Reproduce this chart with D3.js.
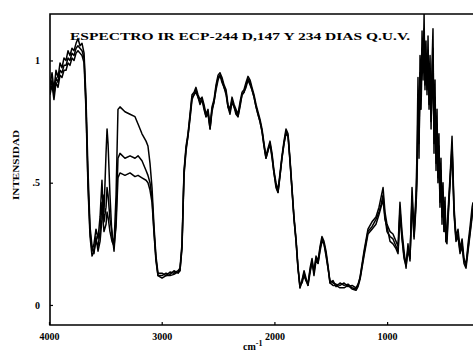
<!DOCTYPE html>
<html>
<head>
<meta charset="utf-8">
<script src="https://cdn.jsdelivr.net/npm/d3@7"></script>
<style>
  html, body { margin: 0; padding: 0; background: #fff; }
  svg { display: block; }
  text { font-family: "Liberation Serif", "DejaVu Serif", serif; font-weight: bold; fill: #000; }
</style>
</head>
<body>
<svg id="chart" width="473" height="352"></svg>
<script>
// ---- data (wavenumber, cm-1) ----
const wavenumbers = [3991,3973,3956,3938,3920,3902,3885,3867,3849,3831,3814,3796,3778,3760,3743,3725,3707,3689,3672,3654,
3636,3618,3601,3583,3565,3547,3530,3521,3512,3494,3485,3476,3459,3441,3423,3405,3388,3370,3326,3281,
3237,3210,3175,3139,3122,3104,3086,3068,3051,3033,2997,2962,2926,2891,2855,2838,2820,2802,2784,2767,
2749,2731,2713,2696,2678,2660,2642,2625,2607,2589,2571,2554,2536,2518,2500,2483,2465,2447,2429,2412,
2394,2376,2358,2341,2323,2305,2287,2270,2252,2234,2216,2199,2181,2163,2146,2128,2110,2092,2075,2057,
2039,2021,2004,1986,1968,1950,1933,1915,1897,1879,1862,1844,1826,1808,1791,1773,1755,1737,1720,1702,
1684,1666,1649,1631,1613,1595,1578,1560,1542,1524,1507,1480,1453,1418,1382,1347,1311,1276,1258,1240,
1205,1170,1134,1099,1072,1054,1036,1019,1001,974,948,921,903,886,868,850,832,815,797,779,
761,744,735,726,717,708,699,690,681,672,664,655,646,637,628,619,610,602,593,584,575,566,557,549,540,531,522,513,504,495,486,478,469,460,451,433,
424,406,389,371,353,335,318,300,282,264,246,238];

const serieA = [0.90,0.95,0.88,0.96,0.93,0.99,0.97,1.01,1.00,1.04,1.02,1.05,1.04,1.07,1.09,1.06,1.07,1.03,0.85,0.55,
0.32,0.24,0.21,0.28,0.22,0.26,0.35,0.45,0.38,0.62,0.72,0.66,0.45,0.28,0.25,0.45,0.80,0.81,0.79,0.78,
0.77,0.74,0.70,0.67,0.65,0.58,0.48,0.32,0.20,0.13,0.13,0.12,0.135,0.13,0.14,0.15,0.25,0.55,0.65,0.70,
0.78,0.86,0.87,0.89,0.86,0.84,0.85,0.82,0.78,0.80,0.73,0.81,0.84,0.90,0.94,0.95,0.93,0.90,0.88,0.82,
0.80,0.85,0.82,0.80,0.78,0.83,0.87,0.88,0.91,0.935,0.92,0.89,0.86,0.82,0.79,0.76,0.72,0.66,0.61,0.64,
0.67,0.62,0.55,0.50,0.47,0.54,0.61,0.67,0.72,0.70,0.60,0.48,0.36,0.27,0.16,0.07,0.10,0.14,0.11,0.08,
0.15,0.19,0.13,0.20,0.18,0.24,0.28,0.26,0.22,0.16,0.09,0.10,0.075,0.09,0.08,0.085,0.07,0.065,0.08,0.115,
0.22,0.31,0.34,0.36,0.40,0.44,0.48,0.38,0.33,0.30,0.29,0.26,0.24,0.42,0.30,0.22,0.15,0.25,0.18,0.48,
0.30,0.45,0.62,0.93,0.60,1.02,0.85,1.12,0.92,1.19,0.88,1.08,0.86,1.10,0.80,1.02,0.72,0.98,1.13,0.62,0.92,0.55,0.80,0.50,0.70,0.40,0.60,0.33,0.50,0.30,0.44,0.26,0.30,0.38,0.45,0.60,
0.69,0.40,0.28,0.31,0.23,0.27,0.19,0.16,0.25,0.32,0.40,0.42];

const serieB = [0.88,0.92,0.86,0.93,0.91,0.96,0.95,0.98,0.98,1.01,1.00,1.03,1.02,1.05,1.06,1.05,1.04,1.01,0.82,0.50,
0.30,0.22,0.25,0.31,0.27,0.36,0.51,0.40,0.34,0.40,0.48,0.45,0.35,0.30,0.22,0.35,0.60,0.62,0.60,0.61,
0.60,0.61,0.59,0.55,0.53,0.50,0.44,0.30,0.19,0.12,0.12,0.13,0.125,0.14,0.13,0.14,0.24,0.54,0.64,0.69,
0.77,0.85,0.86,0.88,0.85,0.83,0.84,0.81,0.77,0.79,0.72,0.80,0.83,0.89,0.93,0.94,0.92,0.89,0.87,0.81,
0.79,0.84,0.81,0.79,0.77,0.82,0.86,0.87,0.90,0.925,0.91,0.88,0.85,0.81,0.78,0.75,0.71,0.65,0.60,0.63,
0.66,0.61,0.54,0.49,0.46,0.53,0.60,0.66,0.71,0.69,0.59,0.47,0.35,0.26,0.15,0.08,0.09,0.12,0.10,0.09,
0.14,0.17,0.14,0.19,0.17,0.23,0.27,0.25,0.21,0.15,0.10,0.09,0.085,0.08,0.09,0.075,0.08,0.07,0.085,0.11,
0.21,0.30,0.32,0.35,0.38,0.41,0.45,0.36,0.30,0.28,0.27,0.24,0.22,0.39,0.28,0.20,0.17,0.23,0.20,0.44,
0.28,0.42,0.55,0.80,0.70,0.95,0.90,1.05,1.00,1.13,0.95,1.00,0.93,1.04,0.86,0.94,0.80,0.90,1.05,0.70,0.85,0.62,0.74,0.55,0.65,0.45,0.55,0.38,0.46,0.32,0.40,0.28,0.27,0.36,0.43,0.58,
0.66,0.38,0.27,0.29,0.22,0.25,0.18,0.17,0.23,0.30,0.37,0.40];

const serieC = [0.86,0.90,0.84,0.91,0.89,0.94,0.93,0.96,0.96,0.99,0.98,1.01,1.00,1.03,1.04,1.03,1.02,0.99,0.80,0.48,
0.28,0.20,0.22,0.26,0.24,0.30,0.42,0.35,0.30,0.33,0.38,0.36,0.30,0.26,0.24,0.32,0.52,0.54,0.53,0.54,
0.525,0.53,0.52,0.51,0.50,0.47,0.42,0.29,0.18,0.12,0.11,0.12,0.12,0.125,0.135,0.14,0.23,0.53,0.63,0.69,
0.76,0.84,0.86,0.87,0.85,0.82,0.84,0.80,0.77,0.78,0.72,0.79,0.83,0.88,0.92,0.94,0.91,0.89,0.86,0.81,
0.78,0.83,0.81,0.78,0.77,0.81,0.86,0.87,0.89,0.92,0.90,0.88,0.85,0.81,0.78,0.75,0.71,0.65,0.60,0.63,
0.66,0.60,0.54,0.48,0.46,0.53,0.60,0.66,0.70,0.69,0.59,0.47,0.35,0.26,0.15,0.07,0.10,0.13,0.10,0.08,
0.13,0.18,0.12,0.18,0.17,0.22,0.26,0.25,0.20,0.15,0.09,0.08,0.08,0.07,0.07,0.08,0.065,0.06,0.075,0.105,
0.20,0.29,0.31,0.33,0.37,0.40,0.43,0.35,0.32,0.26,0.25,0.23,0.21,0.37,0.27,0.19,0.16,0.22,0.19,0.42,
0.27,0.40,0.50,0.74,0.66,0.90,0.80,1.00,0.95,1.08,0.90,0.95,0.88,0.98,0.82,0.90,0.75,0.85,1.00,0.66,0.80,0.58,0.70,0.52,0.60,0.42,0.52,0.36,0.44,0.30,0.38,0.26,0.25,0.34,0.42,0.56,
0.64,0.37,0.26,0.28,0.21,0.24,0.17,0.15,0.22,0.29,0.36,0.38];

const xTicks = [4000, 3000, 2000, 1000];
const yTicks = [0, 0.5, 1];
const yTickLabels = ["0", ".5", "1"];
const chartTitle = "ESPECTRO IR ECP-244 D,147 Y 234 DIAS Q.U.V.";
const yTitle = "INTENSIDAD";

(function draw() {
  const svg = d3.select("#chart");
  const pL = 50, pR = 473, pT = 14, pB = 325;

  const x = d3.scaleLinear().domain([4000, 238]).range([49, 473]);
  const y = d3.scaleLinear().domain([-0.082, 1.19]).range([pB, pT]);

  // frame (left, top, bottom; right edge falls outside the picture)
  svg.append("path")
    .attr("d", `M${pR + 5},${pT}H${pL}V${pB}H${pR + 5}`)
    .attr("fill", "none").attr("stroke", "#000").attr("stroke-width", 1.6);

  const xAxis = d3.axisBottom(x).tickValues(xTicks).tickSize(-3).tickFormat(d3.format("d"));
  const gx = svg.append("g").attr("transform", `translate(0,${pB})`).call(xAxis);
  gx.select(".domain").remove();
  gx.selectAll("line").attr("stroke", "#000").attr("stroke-width", 1.2);
  gx.selectAll("text").attr("y", 8).attr("dy", "0.71em").attr("font-size", 10)
    .style("font-family", "'Liberation Serif', serif").style("font-weight", "bold");

  const yAxis = d3.axisLeft(y).tickValues(yTicks).tickSize(-3)
    .tickFormat((d, i) => yTickLabels[i]);
  const gy = svg.append("g").attr("transform", `translate(${pL},0)`).call(yAxis);
  gy.select(".domain").remove();
  gy.selectAll("line").attr("stroke", "#000").attr("stroke-width", 1.2);
  gy.selectAll("text").attr("x", -10).attr("font-size", 10)
    .style("font-family", "'Liberation Serif', serif").style("font-weight", "bold");

  svg.append("clipPath").attr("id", "clip").append("rect")
    .attr("x", pL).attr("y", pT).attr("width", pR - pL).attr("height", pB - pT);

  const line = d3.line().x(d => x(d[0])).y(d => y(d[1]));
  [serieA, serieB, serieC].forEach(s => {
    svg.append("path")
      .datum(wavenumbers.map((w, i) => [w, s[i]]))
      .attr("clip-path", "url(#clip)")
      .attr("fill", "none").attr("stroke", "#000").attr("stroke-width", 1.5)
      .attr("stroke-linejoin", "round")
      .attr("d", line);
  });

  svg.append("text").attr("x", 70).attr("y", 40).attr("font-size", 11)
    .attr("textLength", 340).attr("lengthAdjust", "spacingAndGlyphs")
    .text(chartTitle);

  svg.append("text").attr("transform", "translate(19,165) rotate(-90)")
    .attr("text-anchor", "middle").attr("font-size", 9)
    .attr("textLength", 70).attr("lengthAdjust", "spacingAndGlyphs")
    .text(yTitle);

  const xt = svg.append("text").attr("x", 243).attr("y", 350).attr("font-size", 10);
  xt.append("tspan").text("cm");
  xt.append("tspan").attr("dy", -4).attr("font-size", 8).text("-1");
})();
</script>
</body>
</html>
